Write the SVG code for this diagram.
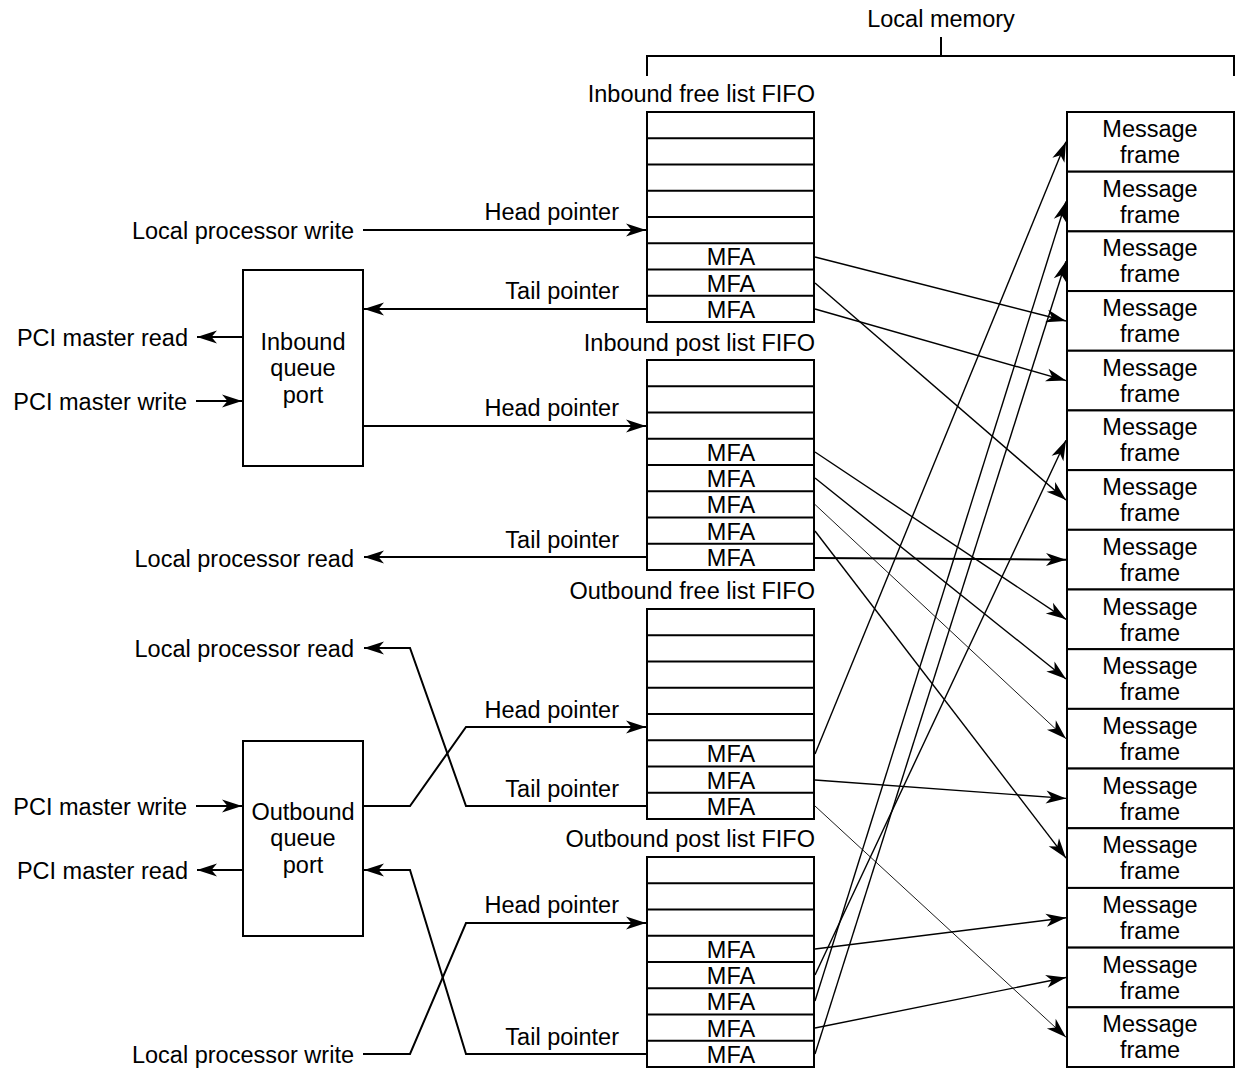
<svg xmlns="http://www.w3.org/2000/svg" width="1236" height="1068" viewBox="0 0 1236 1068">
<style>
text{font-family:"Liberation Sans",Arial,Helvetica,sans-serif;font-size:23.5px;fill:#000}
.r{text-anchor:end}
.m{text-anchor:middle}
.box{fill:#fff;stroke:#000;stroke-width:2}
.sep{stroke:#000;stroke-width:2;fill:none}
.ptr{stroke:#000;stroke-width:2;fill:none;marker-end:url(#ah)}
.mfa{stroke:#000;stroke-width:1.4;fill:none;marker-end:url(#ah)}
.thin{stroke:#000;stroke-width:0.9;fill:none;marker-end:url(#ah)}
</style>
<defs>
<marker id="ah" markerUnits="userSpaceOnUse" markerWidth="21" markerHeight="13" refX="20" refY="6.5" orient="auto" overflow="visible">
<path d="M0,0 L20,6.5 L0,13 L5.5,6.5 Z" fill="#000"/>
</marker>
</defs>

<g id="local-memory">
<text class="m" x="941" y="27">Local memory</text>
<path class="sep" d="M647,76 V56 H1234 V76 M941,56 V37"/>
</g>

<g id="inbound-queue-port">
<rect class="box" x="243" y="270" width="120" height="196"/>
<text class="m" x="303" y="350">Inbound</text>
<text class="m" x="303" y="376">queue</text>
<text class="m" x="303" y="403">port</text>
</g>

<g id="outbound-queue-port">
<rect class="box" x="243" y="741" width="120" height="195"/>
<text class="m" x="303" y="820">Outbound</text>
<text class="m" x="303" y="846">queue</text>
<text class="m" x="303" y="873">port</text>
</g>

<g id="inbound-free-fifo">
<text class="r" x="815" y="102">Inbound free list FIFO</text>
<rect class="box" x="647" y="112" width="167" height="210"/>
<path class="sep" d="M647,138.25H814M647,164.5H814M647,190.75H814M647,217H814M647,243.25H814M647,269.5H814M647,295.75H814"/>
<text class="m" x="731" y="265">MFA</text>
<text class="m" x="731" y="291.5">MFA</text>
<text class="m" x="731" y="317.5">MFA</text>
</g>

<g id="inbound-post-fifo">
<text class="r" x="815" y="351">Inbound post list FIFO</text>
<rect class="box" x="647" y="360" width="167" height="210"/>
<path class="sep" d="M647,386.25H814M647,412.5H814M647,438.75H814M647,465H814M647,491.25H814M647,517.5H814M647,543.75H814"/>
<text class="m" x="731" y="460.5">MFA</text>
<text class="m" x="731" y="487">MFA</text>
<text class="m" x="731" y="513">MFA</text>
<text class="m" x="731" y="539.5">MFA</text>
<text class="m" x="731" y="565.5">MFA</text>
</g>

<g id="outbound-free-fifo">
<text class="r" x="815" y="599">Outbound free list FIFO</text>
<rect class="box" x="647" y="609" width="167" height="210"/>
<path class="sep" d="M647,635.25H814M647,661.5H814M647,687.75H814M647,714H814M647,740.25H814M647,766.5H814M647,792.75H814"/>
<text class="m" x="731" y="762">MFA</text>
<text class="m" x="731" y="788.5">MFA</text>
<text class="m" x="731" y="814.5">MFA</text>
</g>

<g id="outbound-post-fifo">
<text class="r" x="815" y="847">Outbound post list FIFO</text>
<rect class="box" x="647" y="857" width="167" height="210"/>
<path class="sep" d="M647,883.25H814M647,909.5H814M647,935.75H814M647,962H814M647,988.25H814M647,1014.5H814M647,1040.75H814"/>
<text class="m" x="731" y="957.5">MFA</text>
<text class="m" x="731" y="984">MFA</text>
<text class="m" x="731" y="1010">MFA</text>
<text class="m" x="731" y="1036.5">MFA</text>
<text class="m" x="731" y="1062.5">MFA</text>
</g>

<g id="message-frames">
<g id="mf0"><rect class="box" x="1067" y="112" width="167" height="59.69"/><text class="m" x="1150" y="137">Message</text><text class="m" x="1150" y="163">frame</text></g>
<g id="mf1"><rect class="box" x="1067" y="171.69" width="167" height="59.69"/><text class="m" x="1150" y="196.7">Message</text><text class="m" x="1150" y="222.7">frame</text></g>
<g id="mf2"><rect class="box" x="1067" y="231.38" width="167" height="59.69"/><text class="m" x="1150" y="256.4">Message</text><text class="m" x="1150" y="282.4">frame</text></g>
<g id="mf3"><rect class="box" x="1067" y="291.06" width="167" height="59.69"/><text class="m" x="1150" y="316.1">Message</text><text class="m" x="1150" y="342.1">frame</text></g>
<g id="mf4"><rect class="box" x="1067" y="350.75" width="167" height="59.69"/><text class="m" x="1150" y="375.8">Message</text><text class="m" x="1150" y="401.8">frame</text></g>
<g id="mf5"><rect class="box" x="1067" y="410.44" width="167" height="59.69"/><text class="m" x="1150" y="435.4">Message</text><text class="m" x="1150" y="461.4">frame</text></g>
<g id="mf6"><rect class="box" x="1067" y="470.13" width="167" height="59.69"/><text class="m" x="1150" y="495.1">Message</text><text class="m" x="1150" y="521.1">frame</text></g>
<g id="mf7"><rect class="box" x="1067" y="529.81" width="167" height="59.69"/><text class="m" x="1150" y="554.8">Message</text><text class="m" x="1150" y="580.8">frame</text></g>
<g id="mf8"><rect class="box" x="1067" y="589.5" width="167" height="59.69"/><text class="m" x="1150" y="614.5">Message</text><text class="m" x="1150" y="640.5">frame</text></g>
<g id="mf9"><rect class="box" x="1067" y="649.19" width="167" height="59.69"/><text class="m" x="1150" y="674.2">Message</text><text class="m" x="1150" y="700.2">frame</text></g>
<g id="mf10"><rect class="box" x="1067" y="708.88" width="167" height="59.69"/><text class="m" x="1150" y="733.9">Message</text><text class="m" x="1150" y="759.9">frame</text></g>
<g id="mf11"><rect class="box" x="1067" y="768.56" width="167" height="59.69"/><text class="m" x="1150" y="793.6">Message</text><text class="m" x="1150" y="819.6">frame</text></g>
<g id="mf12"><rect class="box" x="1067" y="828.25" width="167" height="59.69"/><text class="m" x="1150" y="853.3">Message</text><text class="m" x="1150" y="879.3">frame</text></g>
<g id="mf13"><rect class="box" x="1067" y="887.94" width="167" height="59.69"/><text class="m" x="1150" y="912.9">Message</text><text class="m" x="1150" y="938.9">frame</text></g>
<g id="mf14"><rect class="box" x="1067" y="947.63" width="167" height="59.69"/><text class="m" x="1150" y="972.6">Message</text><text class="m" x="1150" y="998.6">frame</text></g>
<g id="mf15"><rect class="box" x="1067" y="1007.31" width="167" height="59.69"/><text class="m" x="1150" y="1032.3">Message</text><text class="m" x="1150" y="1058.3">frame</text></g>
</g>

<g id="labels">
<text class="r" x="354" y="239">Local processor write</text>
<text class="r" x="619" y="220">Head pointer</text>
<text class="r" x="619" y="299">Tail pointer</text>
<text class="r" x="188" y="346">PCI master read</text>
<text class="r" x="187" y="410">PCI master write</text>
<text class="r" x="619" y="416">Head pointer</text>
<text class="r" x="619" y="548">Tail pointer</text>
<text class="r" x="354" y="567">Local processor read</text>
<text class="r" x="354" y="657">Local processor read</text>
<text class="r" x="619" y="718">Head pointer</text>
<text class="r" x="619" y="797">Tail pointer</text>
<text class="r" x="187" y="815">PCI master write</text>
<text class="r" x="188" y="879">PCI master read</text>
<text class="r" x="619" y="913">Head pointer</text>
<text class="r" x="619" y="1045">Tail pointer</text>
<text class="r" x="354" y="1063">Local processor write</text>
</g>

<g id="connectors">
<path class="ptr" d="M363,230 H646"/>
<path class="ptr" d="M647,309 H364"/>
<path class="ptr" d="M243,337 H197"/>
<path class="ptr" d="M196,401 H242"/>
<path class="ptr" d="M363,426 H646"/>
<path class="ptr" d="M647,557 H364"/>
<path class="ptr" d="M647,806 H466 L410,648 H364"/>
<path class="ptr" d="M363,806 H410 L466,727 H646"/>
<path class="ptr" d="M196,806 H242"/>
<path class="ptr" d="M243,870 H197"/>
<path class="ptr" d="M647,1054 H466 L410,870 H364"/>
<path class="ptr" d="M363,1054 H410 L466,923 H646"/>

<path class="mfa" d="M815,257 L1066,321"/>
<path class="mfa" d="M815,283 L1066,500"/>
<path class="mfa" d="M815,309 L1066,380.6"/>
<path class="mfa" d="M815,452 L1066,619.3"/>
<path class="mfa" d="M815,478 L1066,679"/>
<path class="thin" d="M815,504.5 L1066,738.7"/>
<path class="mfa" d="M815,531 L1066,858.1"/>
<path class="ptr" d="M815,558 L1066,559.7"/>
<path class="mfa" d="M815,754 L1066,141.8"/>
<path class="mfa" d="M815,780 L1066,798.4"/>
<path class="thin" d="M815,806 L1066,1037.2"/>
<path class="mfa" d="M815,949 L1066,917.8"/>
<path class="mfa" d="M815,975 L1066,440.3"/>
<path class="mfa" d="M815,1001 L1066,201.5"/>
<path class="mfa" d="M815,1028 L1066,977.5"/>
<path class="mfa" d="M815,1054 L1066,261.2"/>
</g>
</svg>
